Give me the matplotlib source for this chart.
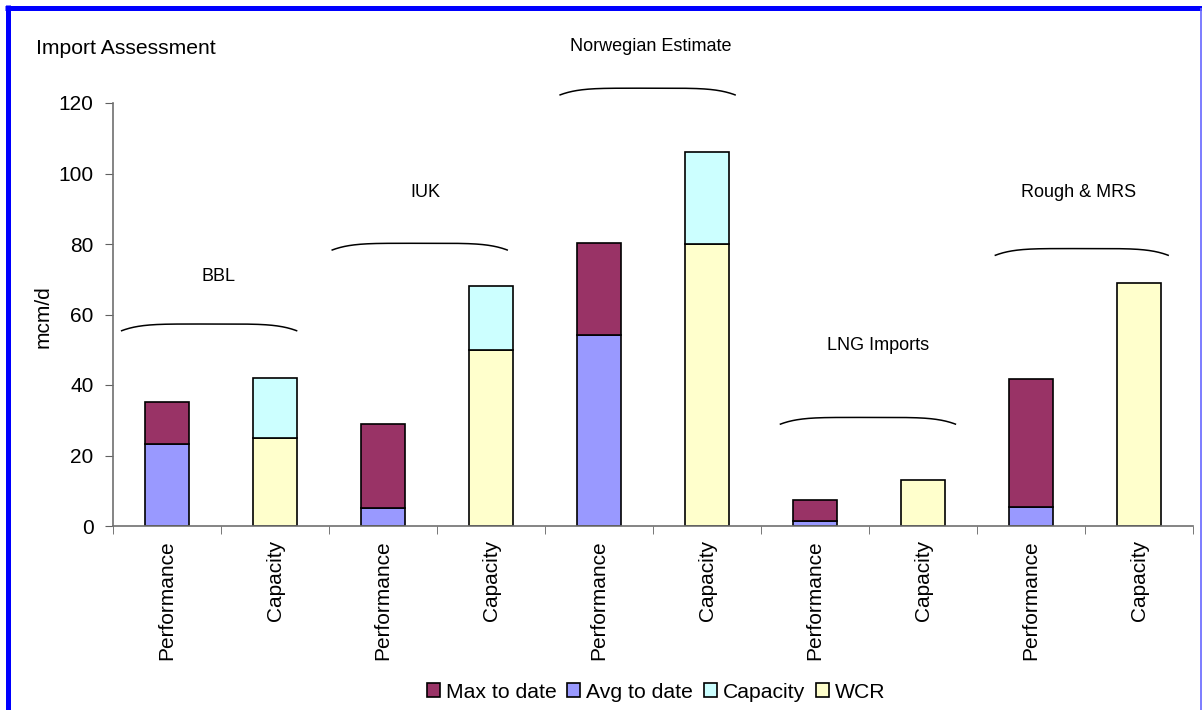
import numpy as np
import matplotlib
matplotlib.use('Agg')
import matplotlib.pyplot as plt
import matplotlib.patches as mpatches
from matplotlib.lines import Line2D

plt.rcParams['font.family'] = ['Liberation Sans', 'DejaVu Sans']

# datos (mcm/d)
grupos = ['BBL', 'IUK', 'Norwegian Estimate', 'LNG Imports', 'Rough & MRS']
etiquetas_barras = ['Performance', 'Capacity'] * 5
avg_to_date = [23.2, 5.0, 54.2, 1.4, 5.5]
max_to_date = [35.2, 28.9, 80.2, 7.4, 41.7]
wcr = [25.0, 50.0, 80.0, 13.0, 69.0]
capacity = [42.0, 68.0, 106.0, 13.0, 69.0]

# posiciones de las llaves y textos de grupo (coordenadas de datos)
llaves = [(-0.42, 1.20, 57.3), (1.53, 3.15, 80.2), (3.64, 5.26, 124.2),
          (5.68, 7.30, 30.8), (7.67, 9.27, 78.7)]
textos = [(0.48, 70.9), (2.39, 94.5), (4.48, 135.9), (6.58, 51.3), (8.44, 94.5)]

c_max = '#993366'
c_avg = '#9999FF'
c_cap = '#CCFFFF'
c_wcr = '#FFFFCC'

fig = plt.figure(figsize=(12.02, 7.10), dpi=100)
ax = fig.add_axes([113 / 1202, 1 - 526 / 710, (1193 - 113) / 1202, (526 - 103) / 710])

x_perf = np.arange(len(grupos)) * 2
x_cap = x_perf + 1
ancho = 0.41
borde = dict(edgecolor='black', linewidth=1.2)

seg_max = np.array(max_to_date) - np.array(avg_to_date)
seg_cap = np.array(capacity) - np.array(wcr)

ax.bar(x_perf, avg_to_date, ancho, color=c_avg, **borde)
ax.bar(x_perf, seg_max, ancho, bottom=avg_to_date, color=c_max, **borde)
ax.bar(x_cap, wcr, ancho, color=c_wcr, **borde)
for xc, base, seg in zip(x_cap, wcr, seg_cap):
    if seg > 0:
        ax.bar(xc, seg, ancho, bottom=base, color=c_cap, **borde)

# llaves sobre cada grupo
t = np.linspace(-1, 1, 200)
for (x0, x1, ytop), nombre, (tx, ty) in zip(llaves, grupos, textos):
    xs = x0 + (t + 1) / 2 * (x1 - x0)
    ys = ytop - 1.9 * np.abs(t) ** 5
    ax.plot(xs, ys, color='black', lw=1.1, clip_on=False)
    ax.text(tx, ty, nombre, ha='center', va='center', fontsize=13, clip_on=False)

ax.set_xlim(-0.5, 9.5)
ax.set_ylim(0, 120)
ax.set_yticks(range(0, 121, 20))
ax.set_xticks(np.arange(10))
ax.set_xticklabels(etiquetas_barras, rotation=90, fontsize=15)
ax.set_xticks(np.arange(-0.5, 10, 1), minor=True)
ax.tick_params(axis='x', which='major', length=0, pad=10)
ax.tick_params(axis='x', which='minor', length=6, direction='out', color='#606060')
ax.tick_params(axis='y', length=6, direction='out', color='#606060', labelsize=15, pad=8)

for lado in ['top', 'right']:
    ax.spines[lado].set_visible(False)
for lado in ['left', 'bottom']:
    ax.spines[lado].set_color('#707070')
    ax.spines[lado].set_linewidth(1.2)

fig.text(43 / 1202, 1 - 317 / 710, 'mcm/d', rotation=90, ha='center', va='center', fontsize=15)
fig.text(36 / 1202, 1 - 48 / 710, 'Import Assessment', ha='left', va='center', fontsize=15.2)

handles = [mpatches.Patch(facecolor=c, edgecolor='black', linewidth=1.2, label=l)
           for c, l in zip([c_max, c_avg, c_cap, c_wcr],
                           ['Max to date', 'Avg to date', 'Capacity', 'WCR'])]
fig.legend(handles=handles, loc='center', bbox_to_anchor=(656 / 1202, 1 - 692 / 710),
           ncol=4, frameon=False, fontsize=15.2, handlelength=0.62, handleheight=0.62,
           handletextpad=0.28, columnspacing=0.5, borderpad=0)

# marco azul de la figura
fig.add_artist(Line2D([7.5 / 1202, 7.5 / 1202], [0, 1 - 5 / 710], color='#0000FF',
                      lw=3.6, transform=fig.transFigure, solid_capstyle='butt'))
fig.add_artist(Line2D([5 / 1202, 1], [1 - 7.5 / 710, 1 - 7.5 / 710], color='#0000FF',
                      lw=3.6, transform=fig.transFigure, solid_capstyle='butt'))
fig.add_artist(Line2D([1200.5 / 1202, 1200.5 / 1202], [0, 1 - 7.5 / 710], color='#6666FF',
                      lw=1.2, transform=fig.transFigure, solid_capstyle='butt'))

fig.savefig('out.png', dpi=100)
